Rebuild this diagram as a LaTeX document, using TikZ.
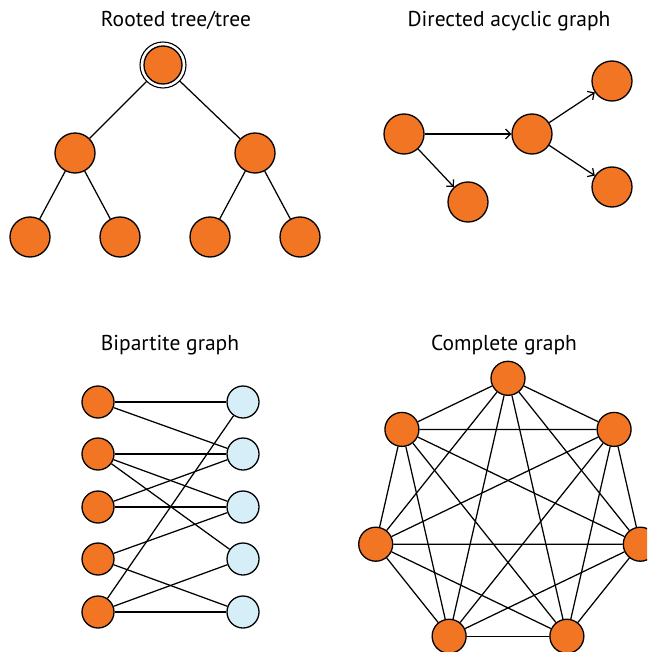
\documentclass[tikz,border=0pt]{standalone}
\usepackage{fontspec}
\setmainfont{PT Sans}
\usetikzlibrary{arrows.meta}
\definecolor{vorange}{HTML}{F27524}
\definecolor{vblue}{HTML}{D6EEF8}
\tikzset{
  vtx/.style={circle, draw=black, line width=1.3pt, fill=vorange, minimum size=#1, inner sep=0pt},
  vtx/.default=40pt,
  bvtx/.style={circle, draw=black, line width=1.3pt, fill=vblue, minimum size=32pt, inner sep=0pt},
  edge/.style={line width=1.25pt, black},
  arc/.style={edge, -{Straight Barb[length=5pt,width=10pt,line width=1.2pt]}},
  ttl/.style={anchor=base, font=\fontsize{21.5}{24}\selectfont, inner sep=0pt},
}
\begin{document}
\begin{tikzpicture}[x=1pt, y=-1pt]
\useasboundingbox (0,0) rectangle (647,652);
\clip (0,0) rectangle (647,652);

% ---------- rooted tree ----------
\node[ttl] (t1) at (176,27) {Rooted tree/tree};
\node[circle, draw=black, line width=1.1pt, fill=white, minimum size=46pt, inner sep=0pt] (root) at (163,65) {};
\node[vtx=38pt] (rootin) at (163,65) {};
\node[vtx] (a) at (75,153) {};
\node[vtx] (b) at (255,153) {};
\node[vtx] (a1) at (30,237) {};
\node[vtx] (a2) at (120,237) {};
\node[vtx] (b1) at (210,237) {};
\node[vtx] (b2) at (300,237) {};
\draw[edge] (root) -- (a);
\draw[edge] (root) -- (b);
\draw[edge] (a) -- (a1);
\draw[edge] (a) -- (a2);
\draw[edge] (b) -- (b1);
\draw[edge] (b) -- (b2);

% ---------- directed acyclic graph ----------
\node[ttl] (t2) at (509,27) {Directed acyclic graph};
\node[vtx] (da) at (404,134) {};
\node[vtx] (db) at (468,202) {};
\node[vtx] (dc) at (532,134) {};
\node[vtx] (dd) at (612,81) {};
\node[vtx] (de) at (612,187) {};
\draw[arc] (da) -- (dc);
\draw[arc] (da) -- (db);
\draw[arc] (dc) -- (dd);
\draw[arc] (dc) -- (de);

% ---------- bipartite graph ----------
\node[ttl] (t3) at (170,350) {Bipartite graph};
\foreach \i/\y in {1/402,2/454,3/507,4/559,5/612}{
  \node[vtx=32pt] (l\i) at (98,\y) {};
  \node[bvtx] (r\i) at (243,\y) {};
}
\foreach \u/\v in {1/1,1/2,2/2,2/3,2/4,3/3,3/2,4/3,4/5,5/5,5/4,5/1}{
  \draw[edge] (l\u) -- (r\v);
}

% ---------- complete graph ----------
\node[ttl] (t4) at (504,350) {Complete graph};
\foreach \k in {0,...,6}{
  \node[vtx=34pt] (k\k) at ({508+135.7*cos(90+\k*360/7)}, {514-135.7*sin(90+\k*360/7)}) {};
}
\foreach \u in {0,...,6}{
  \foreach \v in {0,...,6}{
    \ifnum\u<\v \draw[edge] (k\u) -- (k\v); \fi
  }
}
\end{tikzpicture}
\end{document}
